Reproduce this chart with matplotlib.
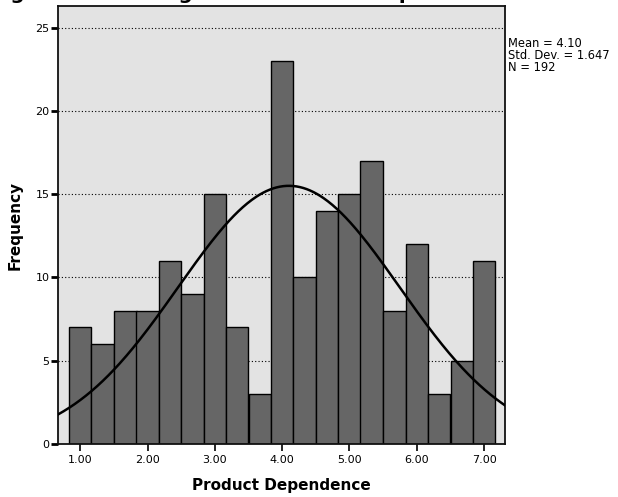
import numpy as np
import matplotlib
matplotlib.use('Agg')
import matplotlib.pyplot as plt

# ── данные гистограммы ──────────────────────────────────────────────
bin_centers = [1.00, 1.33, 1.67, 2.00, 2.33, 2.67, 3.00, 3.33, 3.67, 4.00,
               4.33, 4.67, 5.00, 5.33, 5.67, 6.00, 6.33, 6.67, 7.00]
counts = [7, 6, 8, 8, 11, 9, 15, 7, 3, 23, 10, 14, 15, 17, 8, 12, 3, 5, 11]
bin_width = 1 / 3

mean_val = 4.10
sd_val = 1.647
n_val = 192

x_ticks = [1, 2, 3, 4, 5, 6, 7]
x_tick_labels = ['1.00', '2.00', '3.00', '4.00', '5.00', '6.00', '7.00']
y_ticks = [0, 5, 10, 15, 20, 25]

plt.rcParams['font.family'] = ['DejaVu Sans']

fig = plt.figure(figsize=(6.18, 4.97), dpi=100)
ax = fig.add_axes([58 / 618, 1 - 444 / 497, (505 - 58) / 618, (444 - 6) / 497])
ax.set_facecolor('#e3e3e3')

# сетка — пунктир по y
for yv in y_ticks[1:]:
    ax.axhline(yv, color='black', ls=(0, (1, 2)), lw=0.8, zorder=1)

ax.bar(bin_centers, counts, width=bin_width, color='#666666',
       edgecolor='black', linewidth=1.0, zorder=2)

# нормальная кривая по среднему и ст. отклонению
xs = np.linspace(0.67, 7.31, 400)
ys = n_val * bin_width / (sd_val * np.sqrt(2 * np.pi)) * \
    np.exp(-0.5 * ((xs - mean_val) / sd_val) ** 2)
ax.plot(xs, ys, color='black', lw=1.8, zorder=3)

ax.set_xlim(0.67, 7.31)
ax.set_ylim(0, 26.3)
ax.set_xticks(x_ticks)
ax.set_xticklabels(x_tick_labels, fontsize=8)
ax.set_yticks(y_ticks)
ax.set_yticklabels([str(v) for v in y_ticks], fontsize=8)
ax.tick_params(axis='y', direction='out', length=5, width=2, pad=1)
ax.tick_params(axis='x', direction='out', length=5, width=1.2, pad=3)
for sp in ax.spines.values():
    sp.set_linewidth(1.3)
    sp.set_color('#111111')

ax.set_xlabel('Product Dependence', fontsize=11, fontweight='bold', labelpad=9)
ax.set_ylabel('Frequency', fontsize=11, fontweight='bold', labelpad=9)

fig.text(508 / 618, 1 - 37 / 497,
         f'Mean = {mean_val:.2f}\nStd. Dev. = {sd_val:.3f}\nN = {n_val}',
         fontsize=8.3, va='top', ha='left', linespacing=0.88)

# заголовок почти целиком за верхним краем
fig.text(-10 / 618, 1.003, 'Figure 4.1: Histogram of Product Dependence',
         fontsize=14.4, fontweight='bold', ha='left', va='baseline')

fig.savefig('out.png', dpi=100)
